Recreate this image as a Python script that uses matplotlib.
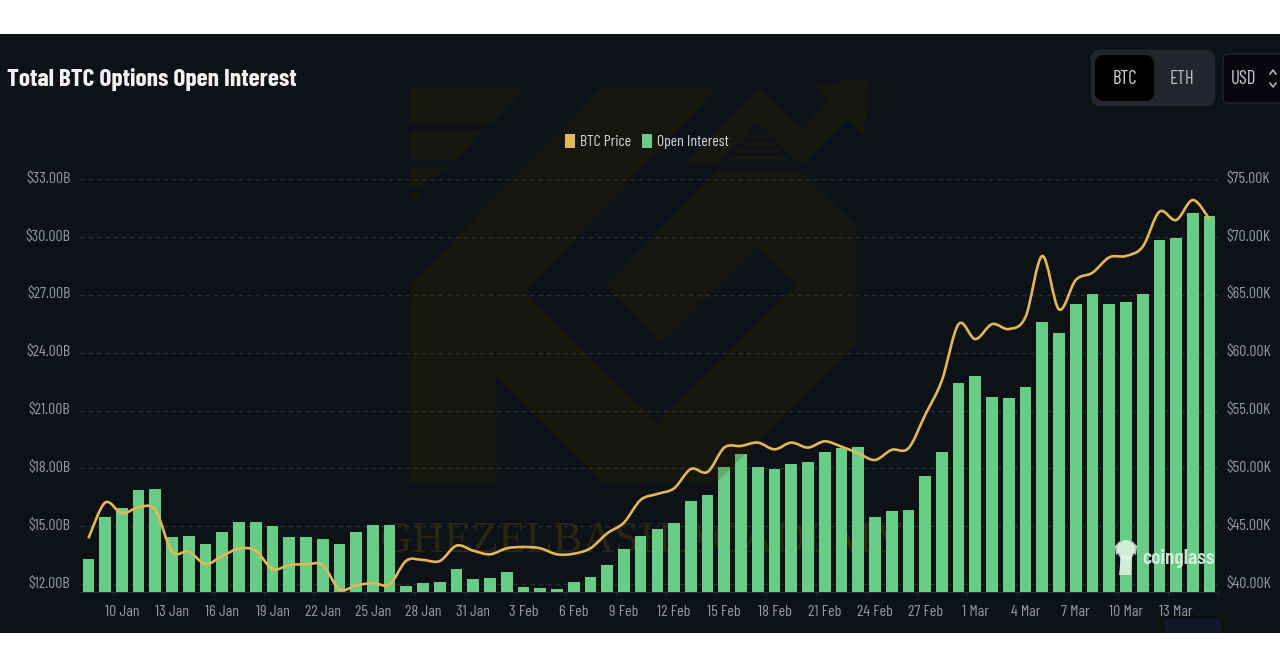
import matplotlib
matplotlib.use('Agg')
from matplotlib import pyplot as plt
from matplotlib.lines import Line2D
from matplotlib.patches import Ellipse, FancyBboxPatch, PathPatch, Polygon, Rectangle
from matplotlib.path import Path
from matplotlib.transforms import ScaledTranslation
import numpy as np

open_interest = [13.30, 15.48, 15.93, 16.90, 16.93, 14.46, 14.49, 14.09, 14.70, 15.24,
                 15.20, 15.03, 14.42, 14.42, 14.35, 14.06, 14.70, 15.04, 15.08, 11.90,
                 12.05, 12.12, 12.80, 12.26, 12.33, 12.64, 11.83, 11.78, 11.72, 12.12,
                 12.36, 13.00, 13.82, 14.49, 14.85, 15.15, 16.31, 16.64, 18.09, 18.75,
                 18.09, 17.99, 18.21, 18.33, 18.83, 19.08, 19.13, 15.46, 15.79, 15.86,
                 17.62, 18.83, 22.43, 22.78, 21.69, 21.65, 22.24, 25.58, 25.01, 26.51,
                 27.03, 26.51, 26.63, 27.03, 29.83, 29.97, 31.25, 31.08]
btc_price = [43.95, 47.04, 46.11, 46.63, 46.40, 42.80, 42.80, 41.73, 42.42, 43.06,
             42.88, 41.30, 41.64, 41.70, 41.64, 39.54, 39.88, 40.09, 39.97, 42.02,
             42.08, 41.99, 43.32, 42.88, 42.57, 43.09, 43.20, 43.09, 42.57, 42.62,
             43.09, 44.38, 45.31, 47.27, 47.79, 48.28, 49.95, 49.69, 51.80, 51.94,
             52.23, 51.65, 52.23, 51.80, 52.34, 51.88, 51.31, 50.73, 51.60, 51.74,
             54.62, 57.60, 62.48, 61.18, 62.48, 62.05, 63.10, 68.37, 63.75, 66.29,
             66.92, 68.25, 68.37, 69.17, 72.20, 71.48, 73.21, 71.54]
date_labels = ['10 Jan', '13 Jan', '16 Jan', '19 Jan', '22 Jan', '25 Jan', '28 Jan', '31 Jan',
               '3 Feb', '6 Feb', '9 Feb', '12 Feb', '15 Feb', '18 Feb', '21 Feb', '24 Feb',
               '27 Feb', '1 Mar', '4 Mar', '7 Mar', '10 Mar', '13 Mar']
oi_ticks = [12, 15, 18, 21, 24, 27, 30, 33]
price_ticks = [40, 45, 50, 55, 60, 65, 70, 75]

W, H = 1280, 662
BG = '#0e1116'
GREEN = '#69cc85'
GOLD = '#e2b757'
NARROW = ['Barlow Condensed', 'Roboto Condensed', 'Roboto']
TICK = '#96989d'


def px(x, y):
    return x / W, 1 - y / H


def pts(*xy):
    return [px(x, y) for x, y in xy]


fig = plt.figure(figsize=(W / 100, H / 100), dpi=100, facecolor='white')
fig.add_artist(Rectangle(px(0, 633), 1, (633 - 34) / H, transform=fig.transFigure,
                         color=BG, lw=0, zorder=-5))
fig.add_artist(Rectangle(px(1165, 633), 56 / W, 14 / H, transform=fig.transFigure,
                         color='#121828', lw=0, zorder=-4))

# bars
x = np.arange(len(open_interest))
ax = fig.add_axes([80 / W, 1 - 592 / H, 1138 / W, (592 - 179.3) / H])
ax.patch.set_visible(False)
ax.set_zorder(1)
ax.bar(x, open_interest, width=0.7, color=GREEN, zorder=3)
ax.set_xlim(-0.5, 67.5)
ax.set_ylim(11.585, 33)
ax.set_yticks(oi_ticks)
ax.set_yticklabels(['$%.2fB' % v for v in oi_ticks])
ax.set_xticks(np.arange(2, 68, 3))
ax.set_xticklabels(date_labels)
ax.set_xticks(np.arange(1.5, 68, 3), minor=True)
ax.tick_params(axis='y', length=0, pad=7, labelcolor=TICK, labelsize=11.5)
ax.tick_params(axis='x', which='major', length=0, pad=9, labelcolor=TICK, labelsize=11.5)
ax.tick_params(axis='x', which='minor', length=3, color='#2a2d33')
nudge = ScaledTranslation(0, 0.02, fig.dpi_scale_trans)
for t in ax.get_xticklabels():
    t.set_family(NARROW)
for t in ax.get_yticklabels():
    t.set_family(NARROW)
    t.set_transform(t.get_transform() + nudge)
ax.grid(axis='y', color='#2b2e34', lw=1, dashes=(3, 3), zorder=0)
for s in ['top', 'left', 'right']:
    ax.spines[s].set_visible(False)
ax.spines['bottom'].set_color('#2a2d33')

# price line, smoothed with bezier segments through the daily values
ax2 = ax.twinx()
ax2.set_zorder(3)
ax2.patch.set_visible(False)
ax2.set_ylim(39.31, 75)
ax2.set_yticks(price_ticks)
ax2.set_yticklabels(['$%.2fK' % v for v in price_ticks])
ax2.tick_params(axis='y', length=0, pad=6, labelcolor=TICK, labelsize=11.5)
for t in ax2.get_yticklabels():
    t.set_family(NARROW)
    t.set_transform(t.get_transform() + nudge)
for s in ax2.spines.values():
    s.set_visible(False)

p = np.column_stack([x, btc_price])
verts = [p[0]]
codes = [Path.MOVETO]
for i in range(len(p) - 1):
    a = p[max(i - 1, 0)]
    d = p[min(i + 2, len(p) - 1)]
    verts += [p[i] + (p[i + 1] - a) / 6, p[i + 1] - (d - p[i]) / 6, p[i + 1]]
    codes += [Path.CURVE4] * 3
ax2.add_patch(PathPatch(Path(verts, codes), fill=False, edgecolor=GOLD, lw=1.9))

# faint logo watermark, sits over the bars and under the line
wm = dict(transform=fig.transFigure, facecolor='#3b2f00', edgecolor='none', alpha=0.2, zorder=2)
logo = [
    [(410, 88), (525, 88), (490, 124), (410, 124)],
    [(410, 130), (483, 130), (457, 159), (410, 159)],
    [(410, 167), (448, 167), (420, 187), (410, 187)],
    [(410, 194), (422, 194), (412, 205)],
    [(410, 285), (602, 88), (717, 88), (525, 292), (717, 482), (602, 482),
     (496, 376), (496, 482), (410, 482)],
    [(683, 164), (759, 88), (802, 129), (828, 102), (815, 85), (870, 78), (864, 135),
     (848, 118), (802, 164), (758, 123), (717, 164)],
    [(718, 171), (800, 171), (856, 226), (856, 345), (717, 482), (658, 420), (796, 286),
     (757, 247), (661, 343), (606, 285)],
]
for shape in logo:
    fig.add_artist(Polygon(pts(*shape), **wm))
for y0, x0, x1 in [(135, 748, 770), (142, 742, 776), (149, 736, 782), (156, 730, 788)]:
    fig.add_artist(Rectangle(px(x0, y0 + 4), (x1 - x0) / W, 4 / H, **wm))
fig.text(*px(642, 541), 'GHEZELBASH ACADEMY', family='Liberation Serif', fontsize=32,
         color='#6a5a10', alpha=0.3, ha='center', va='center', zorder=0.5)

# coinglass mark
mark = dict(transform=fig.transFigure, facecolor='#e4f3e8', edgecolor='none', alpha=0.85, zorder=2)
fig.add_artist(Ellipse(px(1126, 550), 17 / W, 20 / H, **mark))
fig.add_artist(Polygon(pts((1121, 556), (1132, 556), (1131, 575), (1119, 575)), **mark))
fig.add_artist(Polygon(pts((1115, 546), (1120, 541), (1120, 552), (1116, 555)), **mark))
fig.add_artist(Polygon(pts((1137, 546), (1132, 541), (1132, 552), (1136, 555)), **mark))
fig.text(*px(1142, 558), 'coinglass', family=NARROW, fontsize=15.5, fontweight='semibold',
         color='#e4f3e8', alpha=0.9, ha='left', va='center', zorder=2)

# title and legend
fig.text(*px(7, 79.5), 'Total BTC Options Open Interest', family=NARROW, fontsize=18.2,
         fontweight='bold', color='#f2f2f3', ha='left', va='center', zorder=4)
fig.add_artist(Rectangle(px(565, 148), 10 / W, 14 / H, transform=fig.transFigure,
                         color=GOLD, lw=0, zorder=4))
fig.text(*px(580, 142), 'BTC Price', family=NARROW, fontsize=11.3, color='#d9d9da',
         ha='left', va='center', zorder=4)
fig.add_artist(Rectangle(px(642, 148), 10 / W, 14 / H, transform=fig.transFigure,
                         color=GREEN, lw=0, zorder=4))
fig.text(*px(657, 142), 'Open Interest', family=NARROW, fontsize=11.3, color='#d9d9da',
         ha='left', va='center', zorder=4)

# BTC / ETH toggle and USD select, drawn in pixel units
ui = fig.add_axes([0, 0, 1, 1], zorder=5)
ui.set_xlim(0, W)
ui.set_ylim(H, 0)
ui.axis('off')
ui.add_patch(FancyBboxPatch((1099, 58), 108, 40, boxstyle='round,pad=0,rounding_size=1',
                            facecolor='#23262c', edgecolor='#23262c', lw=12, joinstyle='round'))
ui.add_patch(FancyBboxPatch((1102, 62), 45, 32, boxstyle='round,pad=0,rounding_size=1',
                            facecolor='#000000', edgecolor='#000000', lw=10, joinstyle='round'))
ui.add_patch(FancyBboxPatch((1223, 54), 80, 49, boxstyle='round,pad=0,rounding_size=5',
                            facecolor='#07080b', edgecolor='#23262c', lw=1))
ui.text(1124.5, 79.5, 'BTC', family=NARROW, fontsize=13.5, color='#d4d5d7', ha='center', va='center')
ui.text(1182, 79.5, 'ETH', family=NARROW, fontsize=13.5, color='#b9bbbf', ha='center', va='center')
ui.text(1243, 79.5, 'USD', family=NARROW, fontsize=13.5, color='#c9cacc', ha='center', va='center')
ui.add_line(Line2D([1270, 1273, 1276], [74, 70, 74], color='#b9bbbf', lw=1.1))
ui.add_line(Line2D([1270, 1273, 1276], [83, 87, 83], color='#b9bbbf', lw=1.1))

plt.savefig('out.png', dpi=100, facecolor='white')
